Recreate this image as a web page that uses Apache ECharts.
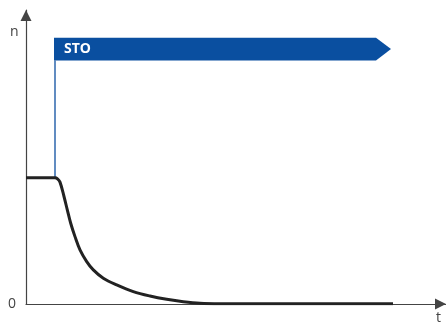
<!DOCTYPE html>
<html>
<head>
<meta charset="utf-8">
<script src="https://cdn.jsdelivr.net/npm/echarts@6/dist/echarts.min.js"></script>
<style>
  html, body { margin: 0; padding: 0; background: #fff; }
  #chart { width: 446px; height: 331px; }
</style>
</head>
<body>
<div id="chart"></div>
<script>
// speed n (100 = level before STO) over time t
const curveT = [0, 2.9, 3.15, 3.4, 3.8, 4.13, 4.47, 4.9, 5.4, 6.07, 6.73, 7.73, 9.07, 10.73, 12.4, 14.07, 15.73, 17.4, 20, 23, 36.7];
const curveN = [100, 100, 99.2, 96.6, 85.2, 74.6, 64.0, 53.4, 42.9, 33.6, 27.0, 20.4, 15.1, 9.8, 6.3, 3.7, 1.8, 0.6, 0.2, 0.1, 0.1];

// STO signal band
const stoLabel = 'STO';
const stoT = [2.8, 35.0, 36.5];   // start, body end, arrow tip
const stoN = [193, 211];          // band low, band high
const switchT = 2.9;

const tMax = 42;
const nMax = 233;

let chartDom = document.getElementById('chart');
let myChart = echarts.init(chartDom);
let option;

const blue = '#0a4fa0';
const axisColor = '#444';

option = {
  animation: false,
  grid: { left: 26, right: 0, top: 10, bottom: 27 },
  xAxis: {
    type: 'value',
    min: 0,
    max: tMax,
    splitLine: { show: false },
    axisTick: { show: false },
    axisLabel: { show: false },
    axisLine: {
      show: true,
      symbol: ['none', 'triangle'],
      symbolSize: [11, 11],
      symbolOffset: [0, -5.5],
      lineStyle: { color: axisColor, width: 1.2 }
    }
  },
  yAxis: {
    type: 'value',
    min: 0,
    max: nMax,
    interval: nMax,
    splitLine: { show: false },
    axisTick: { show: false },
    axisLabel: {
      show: true,
      margin: 10,
      color: '#444',
      fontFamily: 'Open Sans',
      fontSize: 14,
      formatter: v => (v === 0 ? '0' : '')
    },
    axisLine: {
      show: true,
      symbol: ['none', 'triangle'],
      symbolSize: [11, 11],
      symbolOffset: [0, -5.5],
      lineStyle: { color: axisColor, width: 1.2 }
    }
  },
  graphic: [
    { type: 'text', left: 10, top: 25, style: { text: 'n', fill: '#444', font: '14px "Open Sans"' } },
    { type: 'text', left: 436, top: 311, style: { text: 't', fill: '#444', font: '14px "Open Sans"' } }
  ],
  series: [
    {
      type: 'line',
      data: [[switchT, curveN[1]], [switchT, stoN[0]]],
      symbol: 'none',
      lineStyle: { color: '#2d66ad', width: 1.5 },
      z: 2
    },
    {
      type: 'custom',
      data: [[stoT[0], stoT[1], stoT[2], stoN[0], stoN[1]]],
      renderItem: function (params, api) {
        const x0 = api.value(0), x1 = api.value(1), xt = api.value(2);
        const lo = api.value(3), hi = api.value(4);
        const p0 = api.coord([x0, hi]);
        const p1 = api.coord([x1, hi]);
        const pt = api.coord([xt, (lo + hi) / 2]);
        const p2 = api.coord([x1, lo]);
        const p3 = api.coord([x0, lo]);
        return {
          type: 'group',
          children: [
            { type: 'polygon', shape: { points: [p0, p1, pt, p2, p3] }, style: { fill: blue } },
            {
              type: 'text',
              x: p0[0] + 10,
              y: (p0[1] + p3[1]) / 2,
              style: { text: stoLabel, fill: '#fff', font: 'bold 14px "Open Sans"', verticalAlign: 'middle' }
            }
          ]
        };
      },
      z: 3
    },
    {
      type: 'line',
      data: curveT.map((t, i) => [t, curveN[i]]),
      symbol: 'none',
      smooth: 0.35,
      lineStyle: { color: '#222', width: 3 },
      z: 4
    }
  ]
};

option && myChart.setOption(option);
</script>
</body>
</html>
